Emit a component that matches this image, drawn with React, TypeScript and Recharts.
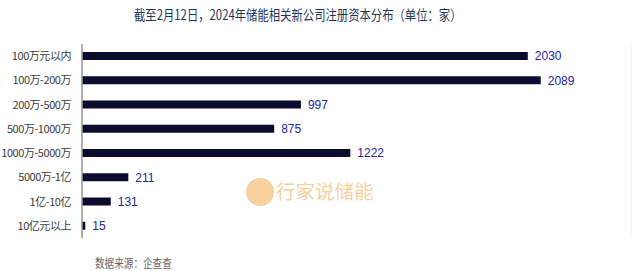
import React from "react";
import { BarChart, Bar, XAxis, YAxis, CartesianGrid, LabelList } from "recharts";

const categories = ["100万元以内", "100万-200万", "200万-500万", "500万-1000万", "1000万-5000万", "5000万-1亿", "1亿-10亿", "10亿元以上"];
const counts = [2030, 2089, 997, 875, 1222, 211, 131, 15];
const xTicks = [0, 500, 1000, 1500, 2000, 2500];
const title = "截至2月12日，2024年储能相关新公司注册资本分布（单位：家）";
const source = "数据来源：企查查";
const watermark = "行家说储能";

const data = categories.map((c, i) => ({ name: c, value: counts[i] }));
const FONT = "'Noto Sans CJK SC', 'Noto Sans', sans-serif";

export default function App() {
  return (
    <div style={{ position: "absolute", left: 0, top: 0, width: 640, height: 271, background: "#fff", fontFamily: FONT }}>
      <div style={{ position: "absolute", left: 96, top: 4, width: 400, textAlign: "center", fontSize: 14, color: "#1f3558", whiteSpace: "nowrap", transform: "scaleX(0.81)", transformOrigin: "50% 50%" }}>
        {title}
      </div>
      <div style={{ position: "absolute", left: 246, top: 178, width: 28, height: 28, borderRadius: 14, background: "#f6c98d", opacity: 0.85 }} />
      <div style={{ position: "absolute", left: 276, top: 177, fontSize: 19.5, color: "#f6c98d", opacity: 0.85, whiteSpace: "nowrap", lineHeight: "28px" }}>
        {watermark}
      </div>
      <div style={{ position: "absolute", left: 0, top: 0 }}>
        <BarChart width={640} height={271} data={data} layout="vertical" margin={{ top: 44, right: 9, bottom: 33, left: 0 }}>
          <CartesianGrid horizontal={false} stroke="#eef0f3" />
          <XAxis type="number" domain={[0, 2500]} ticks={xTicks} height={0} tick={false} axisLine={false} tickLine={false} />
          <YAxis
            type="category"
            dataKey="name"
            width={82}
            tick={{ fontSize: 11, fill: "#3a3a3a", fontFamily: FONT, letterSpacing: -0.45 }}
            tickLine={false}
            axisLine={{ stroke: "#999", strokeWidth: 1.5 }}
            tickMargin={5}
          />
          <Bar dataKey="value" fill="#0b0b2e" barSize={8} isAnimationActive={false}>
            <LabelList dataKey="value" position="right" offset={7} style={{ fontSize: 12, fill: "#24249a", fontFamily: "'Liberation Sans', Arial, sans-serif" }} />
          </Bar>
        </BarChart>
      </div>
      <div style={{ position: "absolute", left: 95, top: 254, fontSize: 12, color: "#666", whiteSpace: "nowrap", transform: "scaleX(0.8)", transformOrigin: "0 50%" }}>
        {source}
      </div>
    </div>
  );
}
